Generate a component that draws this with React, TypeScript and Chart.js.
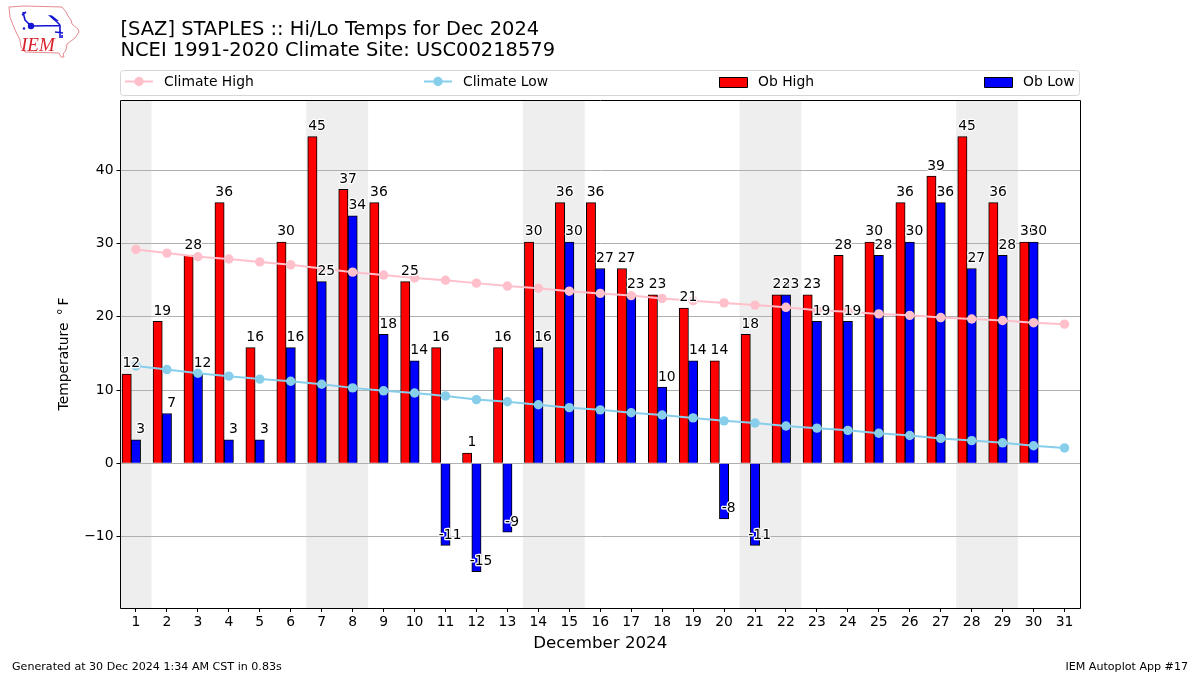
import React, { useEffect, useRef } from "react";
import { Chart, registerables } from "chart.js";

Chart.register(...registerables);

const days = [1,2,3,4,5,6,7,8,9,10,11,12,13,14,15,16,17,18,19,20,21,22,23,24,25,26,27,28,29,30,31];
const obHigh = [12.2,19.4,28.4,35.6,15.8,30.2,44.6,37.4,35.6,24.8,15.8,1.4,15.8,30.2,35.6,35.6,26.6,23,21.2,14,17.6,23,23,28.4,30.2,35.6,39.2,44.6,35.6,30.2];
const obLow = [3.2,6.8,12.2,3.2,3.2,15.8,24.8,33.8,17.6,14,-11.2,-14.8,-9.4,15.8,30.2,26.6,23,10.4,14,-7.6,-11.2,23,19.4,19.4,28.4,30.2,35.6,26.6,28.4,30.2];
const climateHigh = [29.2,28.7,28.2,27.9,27.5,27.1,26.6,26.1,25.7,25.3,25.0,24.6,24.2,23.9,23.5,23.2,22.9,22.5,22.2,21.9,21.6,21.3,20.9,20.7,20.4,20.2,19.9,19.7,19.5,19.2,19.0];
const climateLow = [13.3,12.8,12.3,11.9,11.5,11.2,10.8,10.3,9.9,9.6,9.2,8.7,8.4,8.0,7.6,7.3,6.9,6.6,6.2,5.8,5.5,5.1,4.8,4.5,4.1,3.8,3.4,3.1,2.8,2.4,2.1];
const weekendBands = [[1,1],[7,8],[14,15],[21,22],[28,29]];
const yTicks = [-10,0,10,20,30,40];
const titleLines = ["[SAZ] STAPLES :: Hi/Lo Temps for Dec 2024","NCEI 1991-2020 Climate Site: USC00218579"];
const xTitle = "December 2024";
const yTitle = "Temperature \u2009\u00B0\u2009F";
const footerLeft = "Generated at 30 Dec 2024 1:34 AM CST in 0.83s";
const footerRight = "IEM Autoplot App #17";

const FONT = "'DejaVu Sans'";
const HIGH_OFFSET = -0.3;
const LOW_OFFSET = 0;
const HIGH_LABEL_OFFSET = -0.15;
const LOW_LABEL_OFFSET = 0.15;

const iowa = [[9,7],[24,6],[62,7],[66,12],[68,16],[71,20],[72,24],[78,29],[79,32],[75,38],[71,41],[67,44],[66,50],[63,54],[64,57],[61,57],[59,53],[25,52],[21,47],[20,40],[16,32],[13,25],[10,17],[9,7]];

const drawLogo = (c: CanvasRenderingContext2D) => {
  c.save();
  c.strokeStyle = "#e58a8f";
  c.lineWidth = 1;
  c.beginPath();
  iowa.forEach(([x, y], i) => (i ? c.lineTo(x, y) : c.moveTo(x, y)));
  c.stroke();
  c.strokeStyle = "#1414d2";
  c.fillStyle = "#1414d2";
  c.lineWidth = 1.6;
  c.beginPath();
  c.moveTo(31, 26); c.lineTo(60, 25.5); c.lineTo(60, 38);
  c.moveTo(31, 26); c.lineTo(25, 20); c.lineTo(23, 12);
  c.moveTo(22, 15); c.lineTo(26, 12);
  c.moveTo(55, 32); c.lineTo(63, 33);
  c.moveTo(62, 35); c.lineTo(62, 38);
  c.moveTo(55, 20); c.lineTo(60, 25);
  c.stroke();
  c.beginPath(); c.arc(31, 26, 3.2, 0, Math.PI * 2); c.fill();
  c.beginPath();
  c.moveTo(48, 15); c.lineTo(52, 15.5); c.lineTo(59, 21); c.lineTo(54, 20.5); c.closePath();
  c.fill();
  c.beginPath(); c.arc(24, 28.5, 1.2, 0, Math.PI * 2); c.fill();
  c.fillStyle = "#d8222a";
  c.font = "italic 19px 'Liberation Serif'";
  c.textAlign = "left";
  c.textBaseline = "alphabetic";
  c.fillText("IEM", 21, 51);
  c.restore();
};

const framePlugin = {
  id: "frame",
  beforeDraw(chart: any) {
    const { ctx: c, chartArea: a, scales } = chart;
    c.save();
    c.fillStyle = "#ffffff";
    c.fillRect(0, 0, chart.width, chart.height);
    c.fillStyle = "#eeeeee";
    weekendBands.forEach(([s, e]) => {
      const x0 = scales.x.getPixelForValue(s - 0.5);
      const x1 = scales.x.getPixelForValue(e + 0.5);
      c.fillRect(x0, a.top, x1 - x0, a.bottom - a.top);
    });
    c.restore();
  },
  afterDatasetsDraw(chart: any) {
    const { ctx: c, chartArea: a, scales } = chart;
    c.save();
    c.font = `13.9px ${FONT}`;
    c.textAlign = "center";
    c.textBaseline = "bottom";
    c.lineJoin = "round";
    const put = (v: number, day: number, off: number) => {
      const x = scales.x.getPixelForValue(day + off);
      const y = scales.y.getPixelForValue(v + 0.45);
      const s = String(Math.round(v));
      c.strokeStyle = "#ffffff";
      c.lineWidth = 2.5;
      c.strokeText(s, x, y);
      c.fillStyle = "#000000";
      c.fillText(s, x, y);
    };
    obHigh.forEach((_, i) => {
      put(obHigh[i], days[i], HIGH_LABEL_OFFSET);
      put(obLow[i], days[i], LOW_LABEL_OFFSET);
    });
    c.strokeStyle = "#000000";
    c.lineWidth = 1;
    const fx0 = Math.floor(a.left) + 0.5;
    const fy0 = Math.floor(a.top) + 0.5;
    c.strokeRect(fx0, fy0, Math.floor(a.right) + 0.5 - fx0, Math.floor(a.bottom) + 0.5 - fy0);

    // legend
    const labels = chart.data.datasets;
    c.fillStyle = "#ffffff";
    c.strokeStyle = "#d6d6d6";
    c.beginPath();
    c.roundRect(120.5, 70.5, 959, 25, 3);
    c.fill();
    c.stroke();
    c.font = `13.9px ${FONT}`;
    c.textAlign = "left";
    c.textBaseline = "middle";
    const find = (name: string) => labels.find((d: any) => d.label === name);
    const lineItem = (name: string, x: number, tx: number) => {
      const d = find(name);
      c.strokeStyle = d.borderColor;
      c.fillStyle = d.borderColor;
      c.lineWidth = 2;
      c.beginPath(); c.moveTo(x, 81.5); c.lineTo(x + 28, 81.5); c.stroke();
      c.beginPath(); c.arc(x + 14, 81.5, 4.7, 0, Math.PI * 2); c.fill();
      c.fillStyle = "#000";
      c.fillText(name, tx, 82.5);
    };
    const barItem = (name: string, x: number, tx: number) => {
      const d = find(name);
      c.fillStyle = d.backgroundColor;
      c.strokeStyle = "#000";
      c.lineWidth = 1;
      c.fillRect(x, 77, 28, 10);
      c.strokeRect(x + 0.5, 77.5, 28, 10);
      c.fillStyle = "#000";
      c.fillText(name, tx, 82.5);
    };
    lineItem("Climate High", 125, 164);
    lineItem("Climate Low", 424, 463);
    barItem("Ob High", 719, 758);
    barItem("Ob Low", 984, 1023);

    // footer
    c.font = `11.1px ${FONT}`;
    c.fillStyle = "#000";
    c.textBaseline = "alphabetic";
    c.fillText(footerLeft, 12, 670);
    c.textAlign = "right";
    c.fillText(footerRight, 1188, 670);
    drawLogo(c);
    c.restore();
  },
};

export default function App() {
  const ref = useRef<HTMLCanvasElement>(null);
  useEffect(() => {
    document.body.style.margin = "0";
    const chart = new Chart(ref.current as HTMLCanvasElement, {
      type: "bar",
      data: {
        datasets: [
          {
            type: "line", label: "Climate High", order: 1,
            data: days.map((d, i) => ({ x: d, y: climateHigh[i] })),
            borderColor: "#ffc0cb", backgroundColor: "#ffc0cb", borderWidth: 2,
            pointRadius: 4.7, pointBorderWidth: 0, pointBackgroundColor: "#ffc0cb",
          },
          {
            type: "line", label: "Climate Low", order: 0,
            data: days.map((d, i) => ({ x: d, y: climateLow[i] })),
            borderColor: "#87ceeb", backgroundColor: "#87ceeb", borderWidth: 2,
            pointRadius: 4.7, pointBorderWidth: 0, pointBackgroundColor: "#87ceeb",
          },
          {
            type: "bar", label: "Ob High", order: 3, grouped: false,
            barPercentage: 1, categoryPercentage: 1,
            data: obHigh.map((v, i) => ({ x: days[i] + HIGH_OFFSET, y: v })),
            backgroundColor: "#ff0000", borderColor: "#000000", borderWidth: 1,
          },
          {
            type: "bar", label: "Ob Low", order: 2, grouped: false,
            barPercentage: 1, categoryPercentage: 1,
            data: obLow.map((v, i) => ({ x: days[i] + LOW_OFFSET, y: v })),
            backgroundColor: "#0000ff", borderColor: "#000000", borderWidth: 1,
          },
        ] as any,
      },
      options: {
        animation: false,
        responsive: false,
        events: [],
        layout: { padding: { left: 47.5, right: 120, top: 0, bottom: 21 } },
        plugins: {
          legend: { display: false },
          tooltip: { enabled: false },
          title: {
            display: true,
            text: titleLines,
            align: "start",
            fullSize: false,
            color: "#000000",
            font: { family: FONT, size: 19.45, weight: "normal", lineHeight: 21 / 19.45 },
            padding: { top: 19.5, bottom: 38.5 },
          },
        },
        scales: {
          x: {
            type: "linear",
            offset: false,
            min: 0.5,
            max: 31.5,
            afterBuildTicks: (s: any) => { s.ticks = days.map((d) => ({ value: d })); },
            afterFit: (s: any) => { s.height = 46; },
            grid: { offset: false, color: "transparent", tickColor: "#000000", tickLength: 4, drawOnChartArea: false },
            border: { display: false },
            ticks: { color: "#000000", font: { family: FONT, size: 13.9 }, padding: 2, maxRotation: 0, autoSkip: false, callback: (v: any) => String(v) },
            title: { display: true, text: xTitle, color: "#000000", font: { family: FONT, size: 16.67 }, padding: { top: 0, bottom: 0 } },
          },
          y: {
            type: "linear",
            min: -19.75,
            max: 49.6,
            afterBuildTicks: (s: any) => { s.ticks = yTicks.map((v) => ({ value: v })); },
            afterFit: (s: any) => { s.width = 73; },
            grid: { color: "#b0b0b0", tickColor: "#000000", tickLength: 4, lineWidth: 1 },
            border: { display: false },
            ticks: { color: "#000000", font: { family: FONT, size: 13.9 }, padding: 3, callback: (v: any) => (v < 0 ? "\u2212" + Math.abs(v) : String(v)) },
            title: { display: true, text: yTitle, color: "#000000", font: { family: FONT, size: 13.9 }, padding: { top: 9, bottom: 0 } },
          },
        },
      } as any,
      plugins: [framePlugin],
    });
    return () => chart.destroy();
  }, []);
  return (
    <div style={{ position: "absolute", left: 0, top: 0, width: 1200, height: 675 }}>
      <canvas ref={ref} width={1200} height={675} style={{ display: "block" }} />
    </div>
  );
}
